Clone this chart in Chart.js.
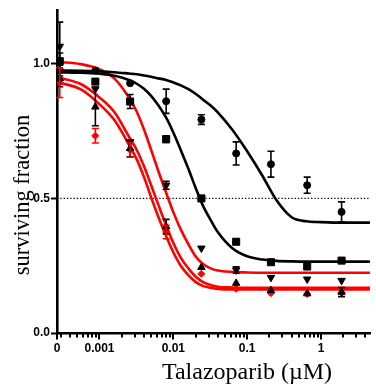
<!DOCTYPE html>
<html><head><meta charset="utf-8">
<script src="https://cdn.jsdelivr.net/npm/chart.js@4/dist/chart.umd.min.js"></script>
<style>html,body{margin:0;padding:0;background:#fff}#wrap{width:376px;height:385px}</style>
</head><body><div id="wrap"><canvas id="c" width="376" height="385"></canvas></div>
<script>
// ---- data ----
const concentrations = [0, 0.00088, 0.0026, 0.008, 0.024, 0.071, 0.21, 0.65, 1.9]; // µM
const ZERO_AT = 0.00029; // where the "0" concentration is plotted
const circleVals  = [0.975, 0.975, 0.928, 0.861, 0.793, 0.667, 0.627, 0.549, 0.45];
const circleErr   = [0.02, 0, 0, 0.045, 0.018, 0.043, 0.048, 0.03, 0.037];
const squareVals  = [1.01, 0.934, 0.86, 0.72, 0.50, 0.339, 0.263, 0.247, 0.269];
const squareErr   = [0.03, 0, 0.026, 0.012, 0, 0, 0, 0, 0];
const triDownVals = [1.065, 0.907, 0.71, 0.549, 0.315, 0.234, 0.206, 0.20, 0.195];
const triDownErr  = [0.09, 0, 0, 0.015, 0, 0.012, 0, 0, 0];
const triUpVals   = [0.945, 0.84, 0.686, 0.395, 0.244, 0.185, 0.158, 0.146, 0.152];
const triUpErr    = [0.03, 0.07, 0.031, 0.027, 0, 0, 0, 0, 0.017];
const diamondVals = [0.93, 0.733, 0.68, 0.375, 0.22, 0.164, 0.148, 0.145, 0.15];
const diamondErr  = [0.055, 0.027, 0.027, 0.025, 0, 0, 0, 0, 0];

// fitted curves
const curveConc = [0.00027, 0.00056, 0.001, 0.0016, 0.0025, 0.0032, 0.004, 0.005, 0.0063, 0.008, 0.01, 0.0126, 0.016, 0.02, 0.025, 0.032, 0.04, 0.063, 0.1, 0.16, 0.25, 0.4, 0.63, 1, 2, 4.6];
const curveCircle = [0.975, 0.974, 0.972, 0.969, 0.964, 0.961, 0.957, 0.952, 0.946, 0.94, 0.931, 0.92, 0.906, 0.889, 0.868, 0.845, 0.82, 0.755, 0.675, 0.585, 0.493, 0.43, 0.415, 0.412, 0.41, 0.41];
const curveSquare = [0.969, 0.967, 0.963, 0.956, 0.94, 0.926, 0.907, 0.881, 0.845, 0.80, 0.745, 0.68, 0.61, 0.54, 0.475, 0.42, 0.375, 0.315, 0.285, 0.273, 0.268, 0.266, 0.265, 0.265, 0.265, 0.265];
const curveTriDown = [1.007, 0.999, 0.98, 0.945, 0.875, 0.822, 0.757, 0.681, 0.60, 0.521, 0.449, 0.385, 0.33, 0.285, 0.257, 0.24, 0.232, 0.227, 0.225, 0.224, 0.224, 0.224, 0.224, 0.224, 0.224, 0.224];
const curveTriUp  = [0.95, 0.925, 0.875, 0.82, 0.73, 0.68, 0.62, 0.55, 0.475, 0.40, 0.335, 0.28, 0.24, 0.21, 0.19, 0.178, 0.172, 0.169, 0.168, 0.168, 0.168, 0.168, 0.168, 0.168, 0.168, 0.168];
const curveDiamond = [0.932, 0.905, 0.85, 0.79, 0.70, 0.645, 0.58, 0.505, 0.43, 0.36, 0.30, 0.25, 0.215, 0.19, 0.175, 0.168, 0.164, 0.162, 0.162, 0.162, 0.162, 0.162, 0.162, 0.162, 0.162, 0.162];

const xMajorTicks = [0.001, 0.01, 0.1, 1];
const xTickLabels = ['0.001', '0.01', '0.1', '1'];
const yTicks = [0, 0.5, 1.0];
const yTickLabels = ['0.0', '0.5', '1.0'];
const refLine = 0.5;
const X_MIN = 0.000266, X_MAX = 4.61, Y_MIN = 0, Y_MAX = 1.2;

const BLACK = '#000000', RED = '#ff0000';
const pts = vals => vals.map((v, i) => ({x: concentrations[i] === 0 ? ZERO_AT : concentrations[i], y: v}));
const curve = vals => vals.map((v, i) => ({x: curveConc[i], y: v}));

function markerSet(vals, errs, style, r, color, rot) {
  return {data: pts(vals), errors: errs, showLine: false, pointStyle: style, pointRadius: r,
    pointRotation: rot || 0, backgroundColor: color, borderColor: color, borderWidth: 1, errColor: color};
}
function curveSet(vals, color) {
  return {data: curve(vals), showLine: true, pointRadius: 0, borderColor: color, borderWidth: 2.6,
    cubicInterpolationMode: 'monotone', fill: false};
}

const errorBars = {
  id: 'errorBars',
  afterDatasetsDraw(chart) {
    const {ctx, scales: {x, y}} = chart;
    chart.data.datasets.forEach(ds => {
      if (!ds.errors) return;
      ctx.save();
      ctx.strokeStyle = ds.errColor; ctx.lineWidth = 1.6;
      ds.data.forEach((p, i) => {
        const e = ds.errors[i];
        if (!e) return;
        const px = x.getPixelForValue(p.x);
        const y1 = y.getPixelForValue(p.y + e), y2 = y.getPixelForValue(p.y - e);
        ctx.beginPath();
        ctx.moveTo(px, y1); ctx.lineTo(px, y2);
        ctx.moveTo(px - 3.5, y1); ctx.lineTo(px + 3.5, y1);
        ctx.moveTo(px - 3.5, y2); ctx.lineTo(px + 3.5, y2);
        ctx.stroke();
      });
      ctx.restore();
    });
  }
};

const extras = {
  id: 'extras',
  afterDraw(chart) {
    const {ctx, scales: {x}, chartArea} = chart;
    ctx.save();
    // major and minor log ticks
    ctx.strokeStyle = BLACK; ctx.lineWidth = 2;
    [X_MIN, ...xMajorTicks].forEach(v => {
      const px = Math.round(x.getPixelForValue(v));
      ctx.beginPath(); ctx.moveTo(px, chartArea.bottom); ctx.lineTo(px, chartArea.bottom + 6.5); ctx.stroke();
    });
    for (let k = -4; k <= 0; k++) {
      for (let m = 2; m <= 9; m++) {
        const v = m * Math.pow(10, k);
        if (v <= X_MIN || v >= X_MAX) continue;
        const px = Math.round(x.getPixelForValue(v));
        ctx.beginPath(); ctx.moveTo(px, chartArea.bottom); ctx.lineTo(px, chartArea.bottom + 4.5); ctx.stroke();
      }
    }
    // axis titles
    ctx.fillStyle = BLACK;
    ctx.font = '24px "Liberation Serif", "Times New Roman", serif';
    ctx.textAlign = 'center'; ctx.textBaseline = 'alphabetic';
    ctx.fillText('Talazoparib (\u00B5M)', 247, 379);
    ctx.translate(28.5, 195);
    ctx.rotate(-Math.PI / 2);
    ctx.font = '22.5px "Liberation Serif", "Times New Roman", serif';
    ctx.fillText('surviving fraction', 0, 0);
    ctx.restore();
  }
};

const tickFont = {family: '"Liberation Sans", Arial, sans-serif', size: 12, weight: 'bold'};

new Chart(document.getElementById('c'), {
  type: 'scatter',
  data: {datasets: [
    markerSet(circleVals, circleErr, 'circle', 3.5, BLACK),
    markerSet(squareVals, squareErr, 'rect', 5, BLACK),
    markerSet(triDownVals, triDownErr, 'triangle', 4.3, BLACK, 180),
    markerSet(triUpVals, triUpErr, 'triangle', 4.3, BLACK),
    markerSet(diamondVals, diamondErr, 'rectRot', 3.5, RED),
    curveSet(curveCircle, BLACK),
    curveSet(curveSquare, BLACK),
    curveSet(curveTriDown, RED),
    curveSet(curveTriUp, RED),
    curveSet(curveDiamond, RED),
    {data: [{x: X_MIN, y: refLine}, {x: X_MAX, y: refLine}], showLine: true, pointRadius: 0,
     borderColor: BLACK, borderWidth: 1.3, borderDash: [1.3, 2]}
  ]},
  plugins: [errorBars, extras],
  options: {
    responsive: false, animation: false, devicePixelRatio: 1,
    layout: {padding: {top: 10, left: 0, right: 0, bottom: 0}},
    plugins: {legend: {display: false}, tooltip: {enabled: false}},
    scales: {
      x: {
        type: 'logarithmic', min: X_MIN, max: X_MAX,
        afterBuildTicks: s => { s.ticks = [X_MIN, ...xMajorTicks].map(v => ({value: v})); },
        afterFit: s => { s.height = 52; },
        ticks: {autoSkip: false, maxRotation: 0, color: BLACK, font: tickFont, padding: 2,
          callback: v => { if (v === X_MIN) return '0'; const i = xMajorTicks.indexOf(v); return i >= 0 ? xTickLabels[i] : ''; }},
        grid: {display: true, drawOnChartArea: false, drawTicks: true, tickLength: 6, tickWidth: 0, tickColor: 'rgba(0,0,0,0)'},
        border: {display: true, color: BLACK, width: 2.6}
      },
      y: {
        min: Y_MIN, max: Y_MAX,
        afterBuildTicks: s => { s.ticks = yTicks.map(v => ({value: v})); },
        afterFit: s => { s.width = 57; },
        ticks: {color: BLACK, font: tickFont, padding: 1,
          callback: v => { const i = yTicks.indexOf(v); return i >= 0 ? yTickLabels[i] : ''; }},
        grid: {display: true, drawOnChartArea: false, drawTicks: true, tickLength: 6, tickWidth: 2, tickColor: BLACK},
        border: {display: true, color: BLACK, width: 2.6}
      }
    }
  }
});
</script></body></html>
